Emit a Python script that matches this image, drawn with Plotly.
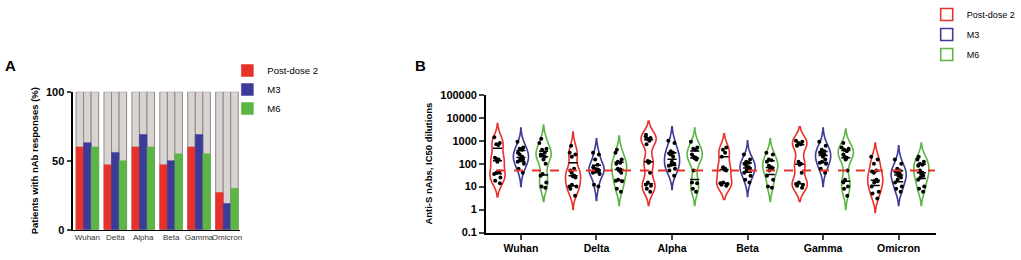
import numpy as np
import plotly.graph_objects as go

# ---------------- data ----------------
categories = ["Wuhan", "Delta", "Alpha", "Beta", "Gamma", "Omicron"]
series = ["Post-dose 2", "M3", "M6"]

# Panel A: % patients with nAb responses
pct_post2 = [60, 47, 60, 47, 60, 27]
pct_m3 = [63, 56, 69, 50, 69, 19]
pct_m6 = [60, 50, 60, 55, 55, 30]

# Panel B: anti-S nAbs IC50 dilutions (per variant)
post2_titers = [
    [1400, 800, 700, 650, 180, 160, 150, 120, 45, 40, 35, 25, 18, 14],
    [600, 300, 250, 200, 60, 50, 40, 30, 28, 25, 12, 10, 10, 8, 4],
    [1800, 1500, 1300, 1200, 1000, 700, 130, 120, 110, 40, 15, 12, 11, 8, 6],
    [500, 400, 300, 200, 70, 60, 55, 50, 15, 14, 13, 12, 11],
    [1000, 900, 800, 700, 600, 120, 100, 90, 40, 15, 13, 12, 11, 9],
    [200, 150, 100, 50, 45, 40, 20, 18, 17, 15, 10, 6, 5, 3],
]
m3_titers = [
    [900, 500, 450, 400, 300, 250, 200, 170, 150, 140, 120, 100, 60, 40],
    [300, 250, 150, 90, 70, 60, 55, 50, 50, 45, 40, 35, 12, 10],
    [1000, 800, 350, 300, 280, 250, 200, 120, 100, 90, 80, 60, 50, 30],
    [250, 150, 120, 110, 100, 80, 70, 60, 55, 50, 40, 30, 20, 15],
    [900, 600, 400, 350, 300, 280, 250, 200, 150, 120, 110, 100, 60, 40],
    [150, 100, 60, 50, 45, 40, 35, 30, 25, 20, 15, 10, 8, 6],
]
m6_titers = [
    [1200, 800, 450, 400, 300, 250, 230, 200, 150, 100, 35, 30, 15, 10, 9],
    [400, 300, 150, 120, 110, 100, 60, 55, 50, 40, 20, 18, 17, 8, 6],
    [900, 500, 450, 400, 250, 200, 180, 170, 150, 50, 15, 14, 8, 6],
    [300, 250, 150, 140, 120, 80, 70, 65, 60, 50, 30, 20, 10, 9],
    [800, 500, 450, 400, 350, 250, 200, 180, 150, 50, 20, 15, 10, 8, 4],
    [200, 150, 120, 100, 90, 80, 50, 40, 35, 30, 25, 20, 10, 8, 6],
]
threshold = 50
ytick_vals_b = [0.1, 1, 10, 100, 1000, 10000, 100000]
ytick_labels_b = ["0.1", "1", "10", "100", "1000", "10000", "100000"]

# ---------------- styles ----------------
colors = ["#e8312b", "#3d3b98", "#5db545"]
FONT = "Liberation Sans, Arial, sans-serif"
offsets_a = [-0.27, 0.0, 0.27]
offsets_b = [-0.31, 0.0, 0.30]

fig = go.Figure()

# ---------- Panel A ----------
idx = np.arange(len(categories))
for k, pct in enumerate([pct_post2, pct_m3, pct_m6]):
    xs = idx + offsets_a[k]
    fig.add_trace(go.Bar(x=xs, y=[100] * len(xs), width=0.27,
                         marker=dict(color="#d9d4d2", line=dict(color="#8c8a88", width=1)),
                         showlegend=False, xaxis="x", yaxis="y", hoverinfo="skip"))
for k, pct in enumerate([pct_post2, pct_m3, pct_m6]):
    xs = idx + offsets_a[k]
    fig.add_trace(go.Bar(x=xs, y=pct, width=0.27, name=series[k],
                         marker=dict(color=colors[k], line=dict(color=colors[k], width=0.5)),
                         xaxis="x", yaxis="y", legend="legend", legendgroup="a" + str(k)))

# ---------- Panel B ----------
for k, data in enumerate([post2_titers, m3_titers, m6_titers]):
    qx, qy = [], []
    for i, vals in enumerate(data):
        ly = np.log10(np.array(vals, dtype=float))
        pos = i + offsets_b[k]
        fig.add_trace(go.Violin(
            y=ly, x0=pos, width=0.2, name=series[k], bandwidth=0.3,
            line=dict(color=colors[k], width=1.6),
            fillcolor="rgba(255,255,255,0)",
            points="all", pointpos=0, jitter=0.6,
            marker=dict(color="black", size=4),
            box_visible=False, meanline_visible=False,
            xaxis="x2", yaxis="y2", legend="legend2",
            legendgroup="b" + str(k), showlegend=(i == 0), hoverinfo="skip"))
        for q in np.percentile(ly, [25, 50, 75]):
            qx += [pos - 0.06, pos + 0.06, None]
            qy += [q, q, None]
    fig.add_trace(go.Scatter(x=qx, y=qy, mode="lines", line=dict(color="black", width=1.5),
                             xaxis="x2", yaxis="y2", showlegend=False, hoverinfo="skip"))

fig.add_shape(type="line", xref="x2", yref="y2", x0=-0.33, x1=5.48,
              y0=np.log10(threshold), y1=np.log10(threshold),
              line=dict(color="#e8312b", width=2, dash="dash"))

axis_common = dict(showgrid=False, zeroline=False, linecolor="black", linewidth=2,
                   showline=True, automargin=False)
fig.update_layout(
    width=1021, height=260,
    margin=dict(l=0, r=0, t=0, b=0),
    paper_bgcolor="white", plot_bgcolor="white",
    barmode="overlay", violinmode="overlay",
    font=dict(family=FONT, color="black"),
    xaxis=dict(domain=[0.0715, 0.236], range=[-0.53, 5.45], tickvals=list(idx),
               ticktext=categories, ticks="", showline=True, linecolor="black", linewidth=1,
               showgrid=False, zeroline=False, automargin=False, tickangle=0,
               tickfont=dict(size=8, color="#333333"), anchor="y"),
    yaxis=dict(domain=[0.119, 0.66], range=[0, 100], tickvals=[0, 50, 100],
               ticktext=["<b>0</b>", "<b>50</b>", "<b>100</b>"],
               ticks="outside", ticklen=4, tickwidth=2,
               tickfont=dict(size=11),
               title=dict(text="<b>Patients with nAb responses (%)</b>",
                          font=dict(size=9.5), standoff=6),
               anchor="x", **axis_common),
    xaxis2=dict(domain=[0.479, 0.9226], range=[-0.46, 5.5], type="linear",
                tickvals=list(idx), ticktext=["<b>%s</b>" % c for c in categories],
                ticks="outside", ticklen=5, tickwidth=2,
                tickfont=dict(size=10.5), anchor="y2", **axis_common),
    yaxis2=dict(domain=[0.1077, 0.648], range=[-1, 5],
                tickvals=list(np.log10(ytick_vals_b)),
                ticktext=["<b>%s</b>" % t for t in ytick_labels_b],
                ticks="outside", ticklen=5, tickwidth=2,
                tickfont=dict(size=11),
                title=dict(text="<b>Anti-S nAbs, IC50 dilutions</b>", font=dict(size=9.5), standoff=6),
                anchor="x2", **axis_common),
    legend=dict(x=0.224, y=0.8, xanchor="left", yanchor="top", font=dict(size=9.5),
                bgcolor="rgba(0,0,0,0)", tracegroupgap=0, itemwidth=30),
    legend2=dict(x=0.913, y=1.02, xanchor="left", yanchor="top", font=dict(size=9),
                 bgcolor="rgba(0,0,0,0)", tracegroupgap=1, itemwidth=30),
    annotations=[
        dict(text="<b>A</b>", x=11 / 1021, y=1 - 62 / 260, xref="paper", yref="paper",
             showarrow=False, font=dict(size=15), xanchor="center", yanchor="middle"),
        dict(text="<b>B</b>", x=423 / 1021, y=1 - 62 / 260, xref="paper", yref="paper",
             showarrow=False, font=dict(size=15), xanchor="center", yanchor="middle"),
    ],
)

fig.write_html("out.html", config={"displayModeBar": False},
               post_script="document.body.style.margin='0';document.body.style.overflow='hidden';")
